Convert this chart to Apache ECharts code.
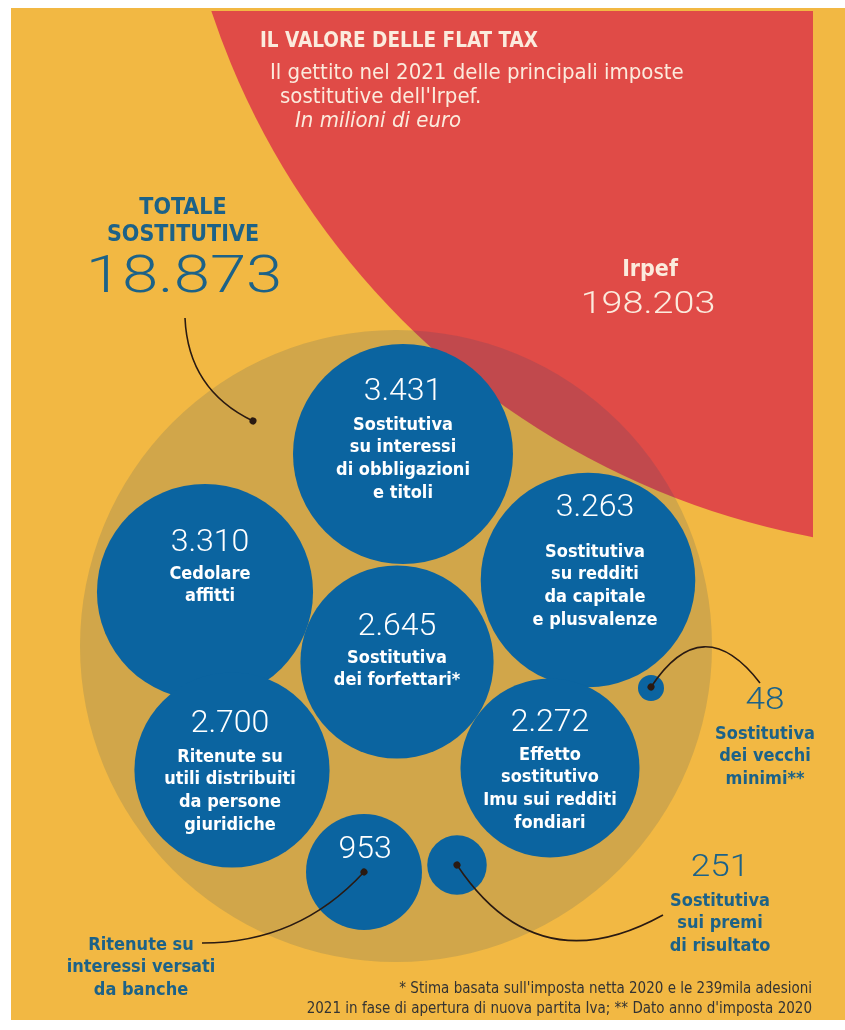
<!DOCTYPE html>
<html><head><meta charset="utf-8">
<script src="https://cdn.jsdelivr.net/npm/echarts/dist/echarts.min.js"></script>
<style>
html,body{margin:0;padding:0;background:#ffffff;width:845px;height:1030px;overflow:hidden}
#panel{position:absolute;left:11px;top:8px;width:834px;height:1012px;background:#F2B843}
#chart{position:absolute;left:0;top:0;width:845px;height:1030px}
</style></head><body><div id="panel"></div><div id="chart"></div>
<script>
// ---------------- DATA ----------------
const categories = [
  'Sostitutiva\nsu interessi\ndi obbligazioni\ne titoli',
  'Cedolare\naffitti',
  'Sostitutiva\nsu redditi\nda capitale\ne plusvalenze',
  'Sostitutiva\ndei forfettari*',
  'Ritenute su\nutili distribuiti\nda persone\ngiuridiche',
  'Effetto\nsostitutivo\nImu sui redditi\nfondiari',
  'Ritenute su\ninteressi versati\nda banche',
  'Sostitutiva\nsui premi\ndi risultato',
  'Sostitutiva\ndei vecchi\nminimi**'
];
const values = [3431, 3310, 3263, 2645, 2700, 2272, 953, 251, 48];
const totalName = 'TOTALE\nSOSTITUTIVE';
const totalValue = 18873;
const irpefName = 'Irpef';
const irpefValue = 198203;
const titleText = 'IL VALORE DELLE FLAT TAX';
const subtitleLines = ["Il gettito nel 2021 delle principali imposte", "sostitutive dell'Irpef."];
const unitText = 'In milioni di euro';
const footnoteLines = [
  "* Stima basata sull'imposta netta 2020 e le 239mila adesioni",
  "2021 in fase di apertura di nuova partita Iva; ** Dato anno d'imposta 2020"
];

// ---------------- LAYOUT (positions in axis units) ----------------
const bubbleCenters = [[403,454],[205,592],[588,580],[397,662],[232,770],[550,768],[364,872],[457,865],[651,688]];
// [numberX, numberY, firstTextLineY] for labels drawn inside bubbles (null = not inside)
const insideLabelPos = [[403,392,425],[210,543,574],[595,508,552],[397,627,658],[230,724,757],[550,723,755],[365,850,null],null,null];
// outside labels: [x, numberY, firstTextLineY]
const outsideLabelPos = {6:[141,null,945], 7:[720,868,901], 8:[765,701,734]};
const containerCenters = {irpef:[960,-238], total:[396,646]};
const containerRadius = {irpef:789, total:316};
const bubbleScale = 1.878; // px radius per sqrt(value)
// connector lines [from, to], curveness
const connectors = [
  {from:[185,318], to:[253,421], c:-0.3},
  {from:[760,683], to:[651,687], c:-0.7},
  {from:[202,943], to:[364,872], c:-0.22},
  {from:[663,915], to:[457,865], c:0.46}
];

// ---------------- STYLE ----------------
const RED = '#E04B47', BLUE = '#0B64A0', TXT_BLUE = '#1C6288', CREAM = '#FBEBDD';
const COND = "'Liberation Sans Narrow','DejaVu Sans Condensed','Roboto Condensed',sans-serif";
const NUMF = "Roboto, 'Open Sans', sans-serif";
const LH = 22.8;

function fmt(v){ return String(v).replace(/\B(?=(\d{3})+(?!\d))/g, '.'); }

const chart = echarts.init(document.getElementById('chart'), null, {renderer:'canvas'});

// bubbles
const bubbleData = values.map((v, i) => {
  const c = bubbleCenters[i];
  const item = { value:[c[0], c[1], v], name: categories[i], symbolSize: 2 * bubbleScale * Math.sqrt(v) };
  const p = insideLabelPos[i];
  if (p) {
    const lines = p[2] == null ? [] : categories[i].split('\n');
    const N = lines.length;
    const Hn = p[2] == null ? 40 : 2 * (p[2] - p[1] - LH / 2);
    const height = Hn + N * LH;
    const top = p[1] - Hn / 2;
    const dy = top + height / 2 - c[1];
    const dx = p[0] - c[0];
    let txt = '{n|' + fmt(v) + '}';
    lines.forEach(l => { txt += '\n{t|' + l + '}'; });
    item.label = {
      show: true, position: 'inside', offset: [dx, dy], formatter: txt, align: 'center',
      rich: {
        n: {fontSize: 32, fontFamily: NUMF, fontWeight: 300, color: '#ffffff', lineHeight: Hn, align: 'center'},
        t: {fontSize: 18, fontFamily: COND, fontWeight: 'bold', color: '#ffffff', lineHeight: LH, align: 'center'}
      }
    };
  } else {
    item.label = {show: false};
  }
  return item;
});

// outside label graphics
const graphics = [];
Object.keys(outsideLabelPos).forEach(k => {
  const i = +k, p = outsideLabelPos[k];
  if (p[1] != null) {
    graphics.push({type:'text', x:p[0], y:p[1], z:100, scaleX:1.1, style:{text: fmt(values[i]), fill: TXT_BLUE,
      font: '300 32px ' + NUMF, align:'center', verticalAlign:'middle'}});
  }
  graphics.push({type:'text', x:p[0], y:p[2] - LH/2, z:100, style:{text: categories[i], fill: TXT_BLUE,
    font: 'bold 18px ' + COND, align:'center', verticalAlign:'top', lineHeight: LH}});
});
// headline texts
graphics.push(
  {type:'text', x:260, y:42, z:100, style:{text:titleText, fill:CREAM, font:'bold 20.5px ' + COND, align:'left', verticalAlign:'middle'}},
  {type:'text', x:270, y:73, z:100, style:{text:subtitleLines[0], fill:CREAM, font:'22px ' + COND, align:'left', verticalAlign:'middle'}},
  {type:'text', x:280, y:97, z:100, style:{text:subtitleLines[1], fill:CREAM, font:'22px ' + COND, align:'left', verticalAlign:'middle'}},
  {type:'text', x:295, y:121, z:100, style:{text:unitText, fill:CREAM, font:'italic 22px ' + COND, align:'left', verticalAlign:'middle'}},
  {type:'text', x:183, y:208 - 13.5, z:100, style:{text:totalName, fill:TXT_BLUE, font:'bold 23px ' + COND, align:'center', verticalAlign:'top', lineHeight:27}},
  {type:'text', x:184, y:279, z:100, scaleX:1.28, style:{text:fmt(totalValue), fill:TXT_BLUE, font:'300 51px ' + NUMF, align:'center', verticalAlign:'middle'}},
  {type:'text', x:650, y:270, z:100, style:{text:irpefName, fill:CREAM, font:'bold 23px ' + COND, align:'center', verticalAlign:'middle'}},
  {type:'text', x:648, y:305, z:100, scaleX:1.18, style:{text:fmt(irpefValue), fill:CREAM, font:'300 32px ' + NUMF, align:'center', verticalAlign:'middle'}},
  {type:'text', x:812, y:989, z:100, style:{text:footnoteLines[0], fill:'#333333', font:'15px ' + COND, align:'right', verticalAlign:'middle'}},
  {type:'text', x:812, y:1009, z:100, style:{text:footnoteLines[1], fill:'#333333', font:'15px ' + COND, align:'right', verticalAlign:'middle'}}
);

const containerData = [
  {value:[containerCenters.irpef[0], containerCenters.irpef[1], irpefValue], r: containerRadius.irpef, fill: RED},
  {value:[containerCenters.total[0], containerCenters.total[1], totalValue], r: containerRadius.total, fill: 'rgba(22,64,113,0.15)'}
];

chart.setOption({
  animation: false,
  grid: {left: 11, top: 11, right: 32, bottom: 10},
  xAxis: {type:'value', min: 11, max: 813, show: false},
  yAxis: {type:'value', min: 11, max: 1020, inverse: true, show: false},
  graphic: graphics,
  series: [
    {
      type: 'custom', clip: true, z: 1,
      data: containerData.map(d => ({value: d.value})),
      renderItem: function (params, api) {
        const d = containerData[params.dataIndex];
        const c = api.coord([api.value(0), api.value(1)]);
        const rPx = api.size([d.r, 0])[0];
        return {type:'circle', shape:{cx:c[0], cy:c[1], r:rPx}, style:{fill:d.fill}};
      }
    },
    {
      type: 'scatter', z: 3, clip: false,
      itemStyle: {color: BLUE, opacity: 1},
      emphasis: {disabled: true},
      data: bubbleData
    },
    {
      type: 'lines', coordinateSystem: 'cartesian2d', z: 4,
      symbol: ['none', 'circle'], symbolSize: 7,
      lineStyle: {color: '#2a1a12', width: 1.6, opacity: 1},
      data: connectors.map(l => ({coords: [l.from, l.to], lineStyle: {curveness: l.c}}))
    }
  ]
});
</script></body></html>
